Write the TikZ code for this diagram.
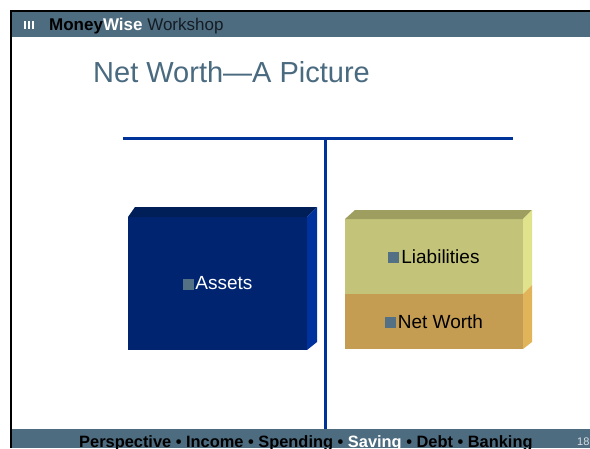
\documentclass[tikz,border=0pt]{standalone}
\usepackage{fontspec}
\setmainfont{Liberation Sans}
\definecolor{barblue}{RGB}{78,108,128}
\definecolor{titlec}{RGB}{74,106,128}
\definecolor{tline}{RGB}{0,51,153}
\definecolor{assetfront}{RGB}{0,36,112}
\definecolor{assettop}{RGB}{0,30,88}
\definecolor{assetside}{RGB}{0,50,158}
\definecolor{liabfront}{RGB}{195,196,122}
\definecolor{liabtop}{RGB}{158,158,96}
\definecolor{liabside}{RGB}{224,226,140}
\definecolor{nwfront}{RGB}{196,156,82}
\definecolor{nwside}{RGB}{226,180,90}
\definecolor{bulletc}{RGB}{84,112,132}
\definecolor{pagenum}{RGB}{215,222,228}
\definecolor{workc}{RGB}{20,28,36}
\newcommand{\sqbullet}{\textcolor{bulletc}{\rule{0.58em}{0.58em}}\hspace{0.1em}}
\tikzset{
  face/.style={inner sep=0pt, outer sep=0pt, font=\fontsize{19}{22}\selectfont},
  tstroke/.style={draw=tline, line width=3pt},
}
\begin{document}
\begin{tikzpicture}[x=1pt,y=-1pt]
\useasboundingbox (0,0) rectangle (590,448);
\clip (0,0) rectangle (590,448);
\fill[white] (0,0) rectangle (590,448);
% header
\fill[barblue] (12,12) rectangle (590,37);
\fill[black] (10,10) rectangle (590,12);
\fill[black] (10,10) rectangle (12,448);
\foreach \bx in {23.5,27.5,31.5} \fill[white] (\bx,21) rectangle ++(2.5,8);
\node[anchor=base west, inner sep=0pt, font=\fontsize{17}{19}\selectfont] (brand) at (49,30)
  {\textbf{Money\textcolor{white}{Wise}} \textcolor{workc}{Workshop}};
% title
\node[anchor=base west, inner sep=0pt, text=titlec, font=\fontsize{29}{32}\selectfont] (title) at (93,82) {Net Worth—A Picture};
% T chart
\coordinate (hl) at (123,138.3);
\coordinate (hr) at (513,138.3);
\coordinate (vt) at (325.5,138.3);
\coordinate (vb) at (325.5,430);
\draw[tstroke] (hl) -- (hr);
\draw[tstroke] (vt) -- (vb);
% Assets box
\node[face, fill=assetfront, text=white, minimum width=179pt, minimum height=133pt] (assets) at (217.5,283.5) {\sqbullet Assets};
\fill[assettop] (assets.north west) -- ++(7,-10) -- ([shift={(10,-10)}]assets.north east) -- (assets.north east) -- cycle;
\fill[assetside] (assets.north east) -- ++(10,-10) -- ([shift={(10,-8)}]assets.south east) -- (assets.south east) -- cycle;
% Liabilities / Net Worth box
\node[face, fill=liabfront, text=black, minimum width=178pt, minimum height=75pt] (liab) at (434,256.5) {\sqbullet Liabilities};
\node[face, fill=nwfront, text=black, minimum width=178pt, minimum height=55pt, anchor=north] (nw) at (liab.south) {\sqbullet Net Worth};
\fill[liabtop] (liab.north west) -- ++(10,-9) -- ([shift={(9,-9)}]liab.north east) -- (liab.north east) -- cycle;
\fill[liabside] (liab.north east) -- ++(9,-9) -- ([shift={(9,-9)}]liab.south east) -- (liab.south east) -- cycle;
\fill[nwside] (nw.north east) -- ++(9,-9) -- ([shift={(9,-7)}]nw.south east) -- (nw.south east) -- cycle;
% footer
\fill[barblue] (12,429) rectangle (590,448);
\node[anchor=base west, inner sep=0pt, font=\bfseries\fontsize{16.4}{18}\selectfont] (footer) at (79,447.5)
  {Perspective • Income • Spending • \textcolor{white}{Saving} • Debt • Banking};
\node[anchor=base west, inner sep=0pt, text=pagenum, font=\fontsize{11}{12}\selectfont] (page) at (577,445) {18};
\end{tikzpicture}
\end{document}
